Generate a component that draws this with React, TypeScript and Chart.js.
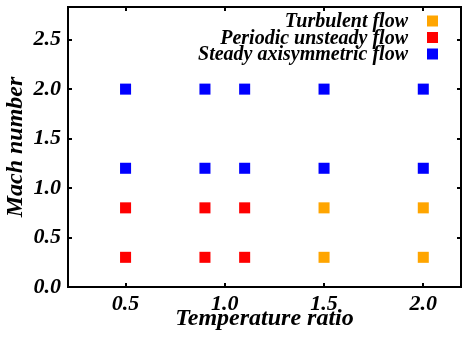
import React, { useEffect, useRef } from "react";
import { Chart, registerables } from "chart.js";

Chart.register(...registerables);

const seriesNames = ["Turbulent flow", "Periodic unsteady flow", "Steady axisymmetric flow"];
const seriesColors = ["#FFA500", "#FF0000", "#0000FF"];

const turbulentX = [1.5, 2.0, 1.5, 2.0];
const turbulentY = [0.8, 0.8, 0.3, 0.3];

const periodicX = [0.5, 0.9, 1.1, 0.5, 0.9, 1.1];
const periodicY = [0.8, 0.8, 0.8, 0.3, 0.3, 0.3];

const steadyX = [0.5, 0.9, 1.1, 1.5, 2.0, 0.5, 0.9, 1.1, 1.5, 2.0];
const steadyY = [2.0, 2.0, 2.0, 2.0, 2.0, 1.2, 1.2, 1.2, 1.2, 1.2];

const xTicks = [0.5, 1.0, 1.5, 2.0];
const yTicks = [0.0, 0.5, 1.0, 1.5, 2.0, 2.5];

const xTitle = "Temperature ratio";
const yTitle = "Mach number";

const FONT = "'Liberation Serif', 'Times New Roman', serif";

const zip = (xs: number[], ys: number[]) => xs.map((x, i) => ({ x, y: ys[i] }));

const zeroPad = (s: any) => {
  s.paddingTop = 0;
  s.paddingBottom = 0;
  s.paddingLeft = 0;
  s.paddingRight = 0;
};

const framePlugin = {
  id: "frame",
  afterDraw(chart: any) {
    const { ctx, chartArea } = chart;
    const { left, right, top, bottom } = chartArea;
    const xs = chart.scales.x;
    const ys = chart.scales.y;
    ctx.save();
    ctx.strokeStyle = "#000";
    ctx.lineWidth = 2;
    ctx.strokeRect(left, top, right - left, bottom - top);
    ctx.lineWidth = 2;
    const tl = 4;
    ctx.beginPath();
    xTicks.forEach((v) => {
      const px = Math.round(xs.getPixelForValue(v));
      ctx.moveTo(px, bottom);
      ctx.lineTo(px, bottom - tl);
      ctx.moveTo(px, top);
      ctx.lineTo(px, top + tl);
    });
    yTicks.forEach((v) => {
      if (v === 0) return;
      const py = Math.round(ys.getPixelForValue(v));
      ctx.moveTo(left, py);
      ctx.lineTo(left + tl, py);
      ctx.moveTo(right, py);
      ctx.lineTo(right - tl, py);
    });
    ctx.stroke();

    // legend
    ctx.font = `italic bold 20px ${FONT}`;
    ctx.textAlign = "right";
    ctx.textBaseline = "middle";
    const rows = [21, 37.5, 54];
    seriesNames.forEach((name, i) => {
      ctx.fillStyle = "#000";
      ctx.fillText(name, 408, rows[i] + 1);
      ctx.fillStyle = seriesColors[i];
      ctx.fillRect(427, rows[i] - 5.5, 11, 11);
    });
    ctx.restore();
  },
};

export default function App() {
  const ref = useRef<HTMLCanvasElement | null>(null);
  useEffect(() => {
    if (!ref.current) return;
    const mk = (label: string, xs: number[], ys: number[], color: string) => ({
      label,
      data: zip(xs, ys),
      backgroundColor: color,
      borderColor: color,
      pointStyle: "rect",
      pointRadius: 7.8,
      pointBorderWidth: 0,
      pointHoverRadius: 7.8,
    });
    const chart = new Chart(ref.current, {
      type: "scatter",
      data: {
        datasets: [
          mk(seriesNames[2], steadyX, steadyY, seriesColors[2]),
          mk(seriesNames[1], periodicX, periodicY, seriesColors[1]),
          mk(seriesNames[0], turbulentX, turbulentY, seriesColors[0]),
        ] as any,
      },
      options: {
        animation: false,
        responsive: true,
        maintainAspectRatio: false,
        devicePixelRatio: 1,
        layout: { autoPadding: false, padding: { top: 7, right: 2, left: 0, bottom: 0 } },
        plugins: { legend: { display: false }, tooltip: { enabled: false } },
        scales: {
          x: {
            type: "linear",
            min: 0.21,
            max: 2.19,
            grid: { display: false, drawTicks: false },
            border: { display: false },
            afterFit: (s: any) => {
              s.height = 56;
              zeroPad(s);
            },
            ticks: {
              includeBounds: false,
              stepSize: 0.5,
              padding: 4,
              color: "#000",
              font: { family: FONT, size: 22, style: "italic", weight: "bold" },
              callback: (v: any) => Number(v).toFixed(1),
            },
            title: {
              display: true,
              text: xTitle,
              color: "#000",
              font: { family: FONT, size: 24, style: "italic", weight: "bold" },
              padding: { top: 0, bottom: 10 },
            },
          },
          y: {
            type: "linear",
            min: 0,
            max: 2.83,
            grid: { display: false, drawTicks: false },
            border: { display: false },
            afterFit: (s: any) => {
              s.width = 68;
              zeroPad(s);
            },
            ticks: {
              includeBounds: false,
              stepSize: 0.5,
              padding: 7,
              color: "#000",
              font: { family: FONT, size: 22, style: "italic", weight: "bold" },
              callback: (v: any) => Number(v).toFixed(1),
            },
            title: {
              display: true,
              text: yTitle,
              color: "#000",
              font: { family: FONT, size: 24, style: "italic", weight: "bold" },
              padding: { top: 1, bottom: 0 },
            },
          },
        },
      } as any,
      plugins: [framePlugin],
    });
    return () => chart.destroy();
  }, []);
  return (
    <div style={{ position: "fixed", left: 0, top: 0, width: 463, height: 343, background: "#fff" }}>
      <canvas ref={ref} />
    </div>
  );
}
